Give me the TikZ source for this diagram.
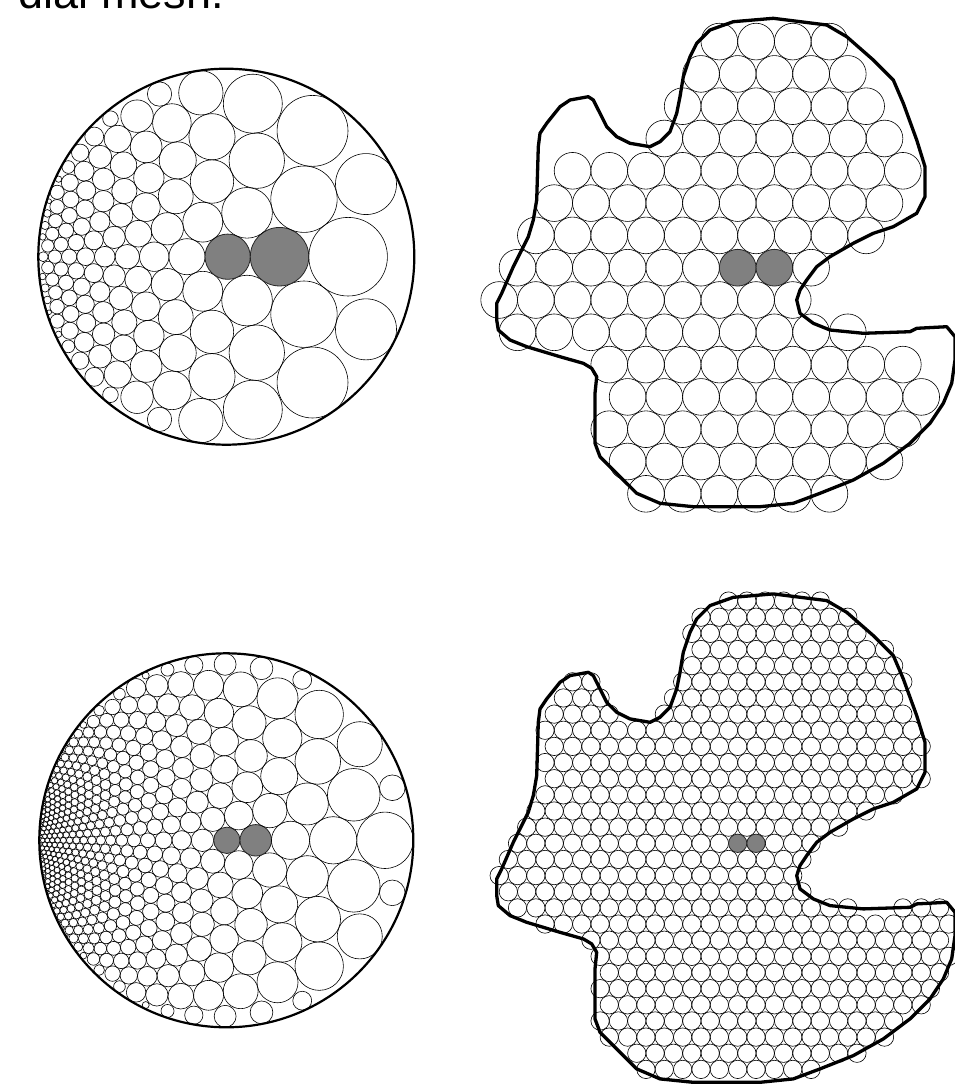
\documentclass[tikz,border=0pt]{standalone}
\usepackage{fontspec}
\setmainfont{Liberation Sans}
\definecolor{shadegray}{RGB}{128,128,128}
\tikzset{
  pc/.style={draw=black, line width=0.6pt},
  graycirc/.style={draw=black!85, line width=0.8pt, fill=shadegray},
  blobline/.style={draw=black, line width=3.3pt, line join=round},
  diskline/.style={draw=black, line width=2.2pt}
}
\def\blobpts{773.3/18.3, 826.7/25, 846.7/36.7, 873.3/60, 893.3/80, 903.3/103.3, 916.7/140, 925/166.7, 925/196.7, 916.7/213.3, 893.3/226.7, 873.3/233.3, 853.3/243.3, 830/256.7, 816.7/266.7, 806.7/280, 800/290, 796.7/300, 800/313.3, 813.3/323.3, 830/330, 863.3/333.3, 910/331.7, 916.7/328.3, 946.7/326.7, 955/336.7, 955/360, 951.7/383.3, 943.3/403.3, 930/423.3, 910/443.3, 883.3/463.3, 853.3/480, 820/493.3, 793.3/503.3, 760/506.7, 693.3/506.7, 660/503.3, 636.7/493.3, 623.3/480, 610/466.7, 600/456.7, 595/443.3, 595/393.3, 596.7/376.7, 591.7/368.3, 583.3/363.3, 560/356.7, 526.7/346.7, 510/340, 498.3/330, 496.7/320, 496.7/303.3, 501.7/293.3, 513.3/266.7, 528.3/236.7, 533.3/220, 536.7/200, 538.3/146.7, 540/133.3, 546.7/123.3, 560/106.7, 570/100, 588.3/96.7, 593.3/100, 600/113.3, 606.7/126.7, 616.7/136.7, 630/143.3, 650/146.7, 660/141.7, 670/131.7, 676.7/113.3, 680/96.7, 683.3/76.7, 690/56.7, 696.7/43.3, 710/30, 733.3/21.7}
\newcount\crosscnt
% crossings of the blob outline with the horizontal line y=#1 (local coords)
\newcommand\makecross[1]{%
  \gdef\crosslist{-1000}%
  \foreach \xa/\ya [remember=\xa as \xb (initially 733.3), remember=\ya as \yb (initially 21.7)] in \blobpts {%
    \ifdim\ya pt>#1 pt\def\sa{1}\else\def\sa{0}\fi
    \ifdim\yb pt>#1 pt\def\sb{1}\else\def\sb{0}\fi
    \if\sa\sb\else
      \pgfmathsetmacro\xint{\xb+(#1-\yb)/(\ya-\yb)*(\xa-\xb)}%
      \xdef\crosslist{\crosslist,\xint}%
    \fi
  }%
}
\newcommand\testin[1]{%
  \global\crosscnt=0
  \foreach \cc in \crosslist {\ifdim\cc pt>#1 pt\global\advance\crosscnt by 1\fi}%
}
% Moebius image of circle (#1,#2) radius #3 in the unit disk
\newcommand\mobdraw[4]{%
  \pgfmathsetmacro\mCx{1-\ma*(#1)}%
  \pgfmathsetmacro\mCy{-\ma*(#2)}%
  \pgfmathsetmacro\mD{(\mCx)*(\mCx)+(\mCy)*(\mCy)-\ma*\ma*(#3)*(#3)}%
  \pgfmathsetmacro\mX{((1-\ma*\ma)*(\mCx)-\mD)/(\ma*\mD)}%
  \pgfmathsetmacro\mY{(1-\ma*\ma)*(#2)/\mD}%
  \pgfmathsetmacro\mR{(1-\ma*\ma)*(#3)/\mD*\dR}%
  \pgfmathsetmacro\gx{\dcx+\dR*(\mX)}%
  \pgfmathsetmacro\gy{\dcy-\dR*(\mY)}%
  \draw[#4] (\gx,\gy) circle[radius=\mR pt];%
}
\newcommand\diskpack[3]{% jmax, imin, imax
  \pgfmathsetmacro\dlim{1-\mrho}%
  \pgfmathsetmacro\thr{0.28*\mrho}%
  \foreach \j in {-#1,...,#1} {%
    \foreach \i in {#2,...,#3} {%
      \pgfmathsetmacro\qx{\sofs+2*\mrho*(\i)+\mrho*(\j)}%
      \pgfmathsetmacro\qy{1.7320508*\mrho*(\j)}%
      \pgfmathsetmacro\dist{sqrt((\qx)*(\qx)+(\qy)*(\qy))}%
      \ifdim\dist pt<\dlim pt
        \let\cxx\qx \let\cyy\qy \let\rr\mrho
      \else
        \pgfmathsetmacro\rr{(1+\mrho-\dist)/2}%
        \pgfmathsetmacro\cxx{(1-\rr)*(\qx)/\dist}%
        \pgfmathsetmacro\cyy{(1-\rr)*(\qy)/\dist}%
      \fi
      \ifdim\rr pt>\thr pt
        \def\st{pc}%
        \ifnum\j=0\relax\ifnum\i=0\relax\def\st{graycirc}\fi\ifnum\i=1\relax\def\st{graycirc}\fi\fi
        \mobdraw{\cxx}{\cyy}{\rr}{\st}%
      \fi
    }%
  }%
}
\begin{document}
\begin{tikzpicture}[x=1pt,y=-1pt]
\useasboundingbox (0,0) rectangle (955,1087);
\node[anchor=base west, font=\fontsize{45}{50}\selectfont, inner sep=0] (title) at (18.5,8.5) {dial mesh.};

% ---------- top-left disk ----------
\def\dcx{226.3}\def\dcy{256.7}\def\dR{188}\def\ma{0.5}\def\mrho{0.09}\def\sofs{0.5}
\diskpack{7}{-13}{7}
\draw[diskline] (226.3,256.7) circle[radius=188pt];

% ---------- bottom-left disk ----------
\def\dcx{226.3}\def\dcy{840.3}\def\dR{187}\def\ma{0.6}\def\mrho{0.045}\def\sofs{0.6}
\diskpack{14}{-26}{12}
\draw[diskline] (226.3,840.3) circle[radius=187pt];

% ---------- top-right blob ----------
\foreach \j/\imin/\imax in {-7/-1/2, -6/-1/3, -5/-2/3, -4/-2/4, -3/-5/4, -2/-5/4, -1/-6/3, 0/-6/2, 1/-7/1, 2/-6/3, 3/-4/4, 4/-3/5, 5/-4/4, 6/-3/4, 7/-3/2} {%
  \pgfmathsetmacro\ry{267.7+32.3*(\j)}%
  \foreach \i in {\imin,...,\imax} {%
    \ifodd\j\relax \pgfmathsetmacro\cx{737.7+36.7*(\i+0.5)}\else\pgfmathsetmacro\cx{737.7+36.7*(\i)}\fi
    \def\st{pc}%
    \ifnum\j=0\relax\ifnum\i=0\relax\def\st{graycirc}\fi\ifnum\i=1\relax\def\st{graycirc}\fi\fi
    \draw[\st] (\cx,\ry) circle[radius=18.35pt];
  }%
}
\draw[blobline] (733.3,21.7) \foreach \xa/\ya in \blobpts {-- (\xa,\ya)} -- cycle;

% ---------- bottom-right blob ----------
\foreach \j in {-16,...,15} {%
  \pgfmathsetmacro\ry{843.3+16.15*(\j)}%
  \pgfmathsetmacro\ly{\ry-575.6}%
  \makecross{\ly}%
  \foreach \i in {-15,...,12} {%
    \ifodd\j\relax \pgfmathsetmacro\cx{737.7+18.35*(\i+0.5)}\else\pgfmathsetmacro\cx{737.7+18.35*(\i)}\fi
    \testin{\cx}%
    \ifodd\crosscnt
      \def\st{pc}%
      \ifnum\j=0\relax\ifnum\i=0\relax\def\st{graycirc}\fi\ifnum\i=1\relax\def\st{graycirc}\fi\fi
      \draw[\st] (\cx,\ry) circle[radius=9.17pt];
    \fi
  }%
}
\begin{scope}[yshift=-575.6pt]
\draw[blobline] (733.3,21.7) \foreach \xa/\ya in \blobpts {-- (\xa,\ya)} -- cycle;
\end{scope}
\end{tikzpicture}
\end{document}
